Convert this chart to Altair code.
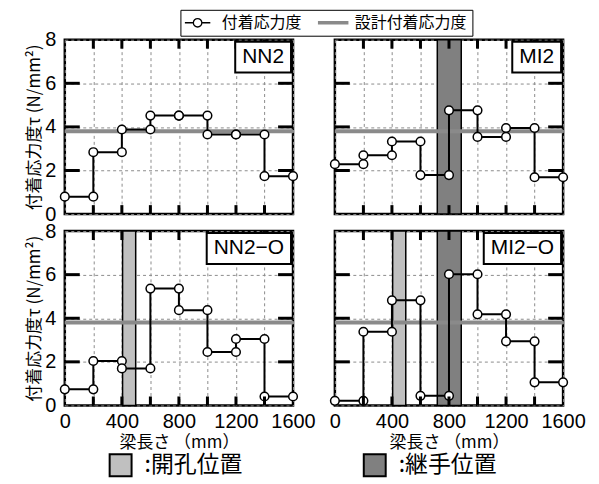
import altair as alt
import pandas as pd

# ---------------- data ----------------
panels = ["NN2", "MI2", "NN2−O", "MI2−O"]
panel_rows = ["top", "top", "bottom", "bottom"]
panel_cols = ["left", "right", "left", "right"]
x_edges = [0, 200, 400, 600, 800, 1000, 1200, 1400, 1600]
nn2 = [0.80, 2.84, 3.88, 4.52, 4.52, 3.65, 3.65, 1.74]
mi2 = [2.29, 2.70, 3.33, 1.79, 4.76, 3.54, 3.95, 1.69]
nn2_o = [0.74, 2.04, 1.70, 5.36, 4.37, 2.45, 3.05, 0.41]
mi2_o = [0.21, 3.38, 4.82, 0.44, 6.02, 4.18, 2.94, 1.06]
series_values = [nn2, mi2, nn2_o, mi2_o]
design_stress = 3.8
opening_range = [405, 497]   # 開孔位置
joint_range = [718, 886]     # 継手位置
panel_bands = [[], ["継手位置"], ["開孔位置"], ["開孔位置", "継手位置"]]
series_names = ["付着応力度", "設計付着応力度"]
band_names = ["開孔位置", "継手位置"]
x_axis_values = [0, 200, 400, 600, 800, 1000, 1200, 1400, 1600]
y_axis_values = [0, 2, 4, 6, 8]
x_tick_marks = [200, 400, 600, 800, 1000, 1200, 1400]
y_tick_marks = [2, 4, 6]

# ---------------- layout constants ----------------
W, H = 229, 175
XMAX, YMAX = 1600, 8
px_x = XMAX / W
px_y = YMAX / H
XTICK_LEN = 9 * px_y
YTICK_LEN = 15 * px_x
char_w = {"N": 0.722, "M": 0.833, "I": 0.278, "2": 0.556, "−": 0.584, "O": 0.778}
LABEL_FS = 21

rows = []
band_ranges = {"開孔位置": opening_range, "継手位置": joint_range}
for p, r, c, vals, bands in zip(panels, panel_rows, panel_cols, series_values, panel_bands):
    base = {"panel": p, "row": r, "col": c}
    k = 0
    for i, v in enumerate(vals):
        for xe in (x_edges[i], x_edges[i + 1]):
            rows.append({**base, "kind": "step", "x": xe, "y": v, "order": k,
                         "series": series_names[0]})
            k += 1
    rows.append({**base, "kind": "design", "y": design_stress, "series": series_names[1]})
    for b in bands:
        rows.append({**base, "kind": "band", "x": band_ranges[b][0], "x2": band_ranges[b][1],
                     "btype": b})
    for xt in x_tick_marks:
        rows.append({**base, "kind": "tick", "x": xt, "x2": xt, "y": 0, "y2": XTICK_LEN})
        rows.append({**base, "kind": "tick", "x": xt, "x2": xt, "y": YMAX - XTICK_LEN, "y2": YMAX})
    for yt in y_tick_marks:
        rows.append({**base, "kind": "tick", "y": yt, "y2": yt, "x": 0, "x2": YTICK_LEN})
        rows.append({**base, "kind": "tick", "y": yt, "y2": yt, "x": XMAX - YTICK_LEN, "x2": XMAX})
    tw = sum(char_w.get(ch, 0.6) for ch in p) * LABEL_FS + 14
    bx1 = XMAX - 2 * px_x
    bx0 = bx1 - tw * px_x
    by1 = YMAX - 2 * px_y
    by0 = by1 - 31 * px_y
    rows.append({**base, "kind": "lbox", "x": bx0, "x2": bx1, "y": by0, "y2": by1})
    rows.append({**base, "kind": "ltext", "x": (bx0 + bx1) / 2, "y": (by0 + by1) / 2, "text": p})

df = pd.DataFrame(rows)

CJK = "Noto Sans CJK JP"
NUM = "Liberation Sans"

x_axis = alt.Axis(values=x_axis_values, labelExpr="datum.value % 400 == 0 ? datum.label : ''",
                  format="d",
                  grid=True, gridDash=[3, 3], gridColor="#8c8c8c", gridWidth=1,
                  ticks=False, domain=False, labelFontSize=20, labelFont=NUM,
                  labelColor="black", labelPadding=6, labelFlush=False,
                  title="梁長さ （mm）", titleFont=CJK, titleFontSize=17,
                  titleFontWeight="normal", titleColor="black", titlePadding=3)
y_axis = alt.Axis(values=y_axis_values, grid=True, gridDash=[3, 3], gridColor="#8c8c8c",
                  gridWidth=1, ticks=False, domain=False, labelFontSize=20, labelFont=NUM,
                  labelColor="black", labelPadding=9, labelFlush=False,
                  title="付着応力度τ (N/mm²)", titleFont=CJK, titleFontSize=17,
                  titleFontWeight="normal", titleColor="black", titlePadding=1)

X = alt.X("x:Q", scale=alt.Scale(domain=[0, XMAX], nice=False, zero=False), axis=x_axis)
Y = alt.Y("y:Q", scale=alt.Scale(domain=[0, YMAX], nice=False, zero=False), axis=y_axis)

def f(kind):
    return f"datum.kind == '{kind}'"

circle_path = "M-1,0H0M1,0H2M1,0A0.5,0.5,0,1,1,0,0A0.5,0.5,0,1,1,1,0Z"
line_path = "M-1,0H2.6"
is_design = f"datum.value === '{series_names[1]}'"

STROKE = alt.Stroke(
    "series:N",
    scale=alt.Scale(domain=series_names, range=["black", "#8a8a8a"]),
    legend=alt.Legend(
        orient="none", legendX=116, legendY=-30, direction="horizontal", title=None,
        symbolType={"expr": f"{is_design} ? '{line_path}' : '{circle_path}'"},
        symbolSize=289,
        symbolFillColor={"expr": f"{is_design} ? 'transparent' : 'white'"},
        symbolStrokeWidth={"expr": f"{is_design} ? 3.5 : 1.3"},
        labelFont=CJK, labelFontSize=16, labelColor="black", labelOffset=20.5,
        columnPadding=8.5, padding=5, strokeColor="black", labelLimit=300))

base = alt.Chart()

band = base.transform_filter(f("band")).mark_rect(stroke="black", strokeWidth=1.5).encode(
    x=X, x2="x2:Q",
    fill=alt.Fill("btype:N",
                  scale=alt.Scale(domain=band_names, range=["#c0c0c0", "#808080"]),
                  legend=alt.Legend(orient="none", legendX=44, legendY=415, direction="horizontal",
                                    title=None, symbolType="square", symbolSize=484,
                                    symbolStrokeColor="black", symbolStrokeWidth=2,
                                    labelFont=CJK, labelFontSize=23, labelColor="black",
                                    labelExpr="':' + datum.label", labelOffset=12,
                                    columnPadding=117, labelLimit=300)))

design = base.transform_filter(f("design")).mark_rule(strokeWidth=4).encode(y=Y, stroke=STROKE)

step = base.transform_filter(f("step")).mark_line(strokeWidth=2).encode(
    x=X, y=Y, order="order:Q", stroke=STROKE)

points = base.transform_filter(f("step")).mark_point(
    shape="circle", filled=True, fill="white", stroke="black", strokeWidth=1.5,
    size=75, opacity=1).encode(x=X, y=Y)

ticks = base.transform_filter(f("tick")).mark_rule(color="black", strokeWidth=3).encode(
    x=X, x2="x2:Q", y=Y, y2="y2:Q")

lbox = base.transform_filter(f("lbox")).mark_rect(
    fill="white", stroke="black", strokeWidth=2).encode(x=X, x2="x2:Q", y=Y, y2="y2:Q")

ltext = base.transform_filter(f("ltext")).mark_text(
    font=NUM, fontSize=LABEL_FS, color="black").encode(x=X, y=Y, text="text:N")

layered = alt.layer(band, design, step, points, ticks, lbox, ltext, data=df).properties(
    width=W, height=H)

chart = layered.facet(
    row=alt.Row("row:N", sort=["top", "bottom"], header=None),
    column=alt.Column("col:N", sort=["left", "right"], header=None),
    spacing={"row": 17, "column": 42},
    bounds="flush",
).properties(
    padding={"left": 17, "top": 0, "right": 5, "bottom": 0},
    background="white",
).configure_view(stroke="black", strokeWidth=2.5).configure_axis(titleColor="black")

chart.save("out.html", embed_options={"renderer": "svg", "actions": False})
